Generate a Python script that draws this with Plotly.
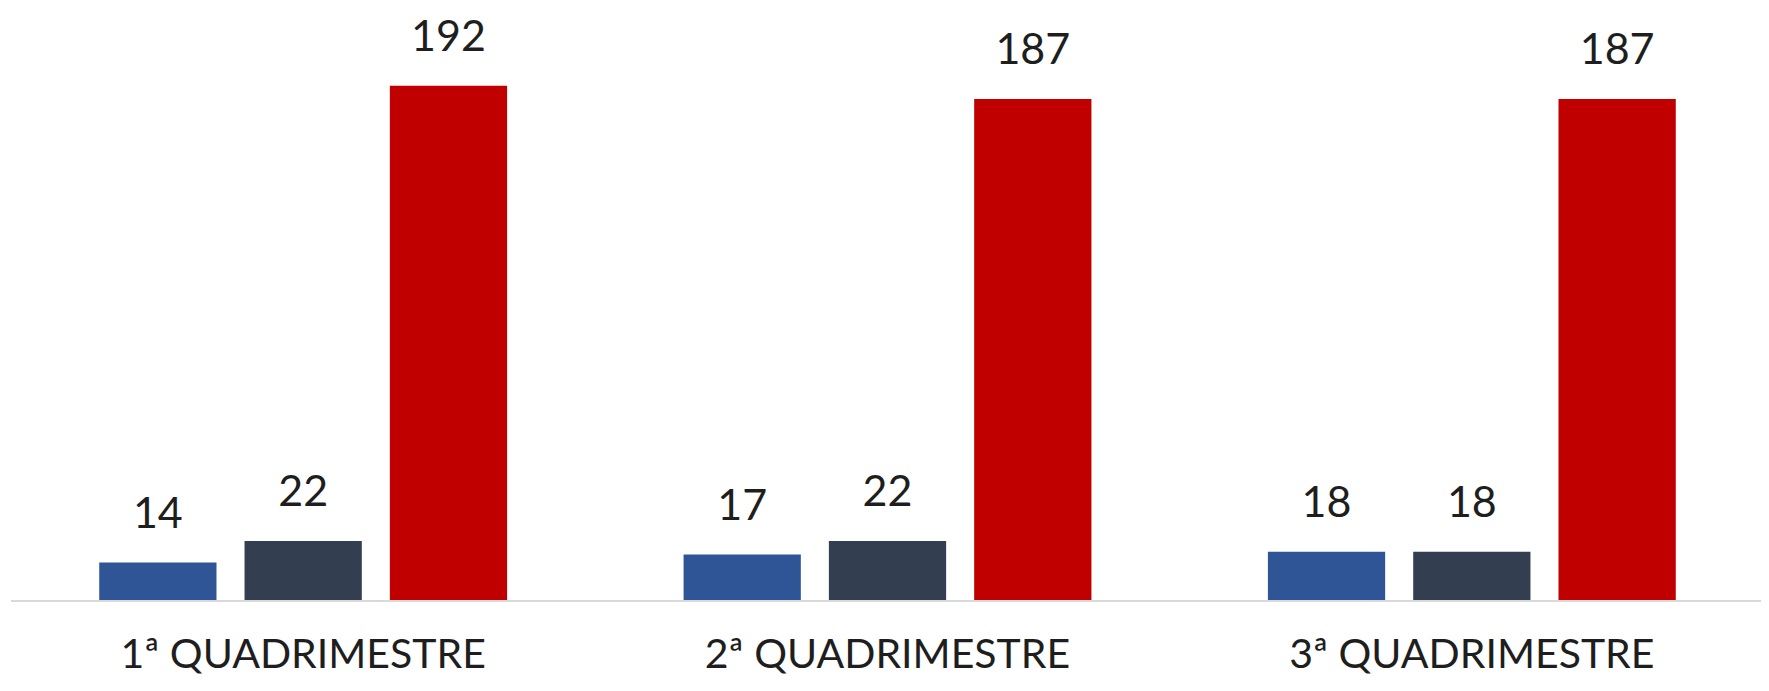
import plotly.graph_objects as go

categories = ["1ª QUADRIMESTRE", "2ª QUADRIMESTRE", "3ª QUADRIMESTRE"]
series_a = [14, 17, 18]
series_b = [22, 22, 18]
series_c = [192, 187, 187]

series = [
    ("Série 1", series_a, "#2F5597"),
    ("Série 2", series_b, "#333F50"),
    ("Série 3", series_c, "#C00000"),
]

FONT = "Lato"
FS = 43
TXT = "#1e1e1e"

fig = go.Figure()
for i, (name, vals, col) in enumerate(series):
    fig.add_trace(go.Bar(
        x=categories, y=vals, name=name, marker_color=col,
        marker_line_width=0, offsetgroup=str(i), hoverinfo="skip",
    ))
for i, (name, vals, col) in enumerate(series):
    fig.add_trace(go.Scatter(
        x=categories, y=vals, mode="markers+text", text=[str(v) for v in vals],
        textposition="top center", offsetgroup=str(i),
        marker=dict(size=37, opacity=0, color=col),
        textfont=dict(family=FONT, size=FS, color=TXT),
        showlegend=False, hoverinfo="skip", cliponaxis=False,
    ))

fig.update_layout(
    width=1769, height=691,
    barmode="group", bargap=0.254, bargroupgap=0.193,
    scattermode="group", scattergap=0.254,
    showlegend=False,
    plot_bgcolor="white", paper_bgcolor="white",
    margin=dict(l=3, r=13, t=0, b=99),
    font=dict(family=FONT, size=FS, color=TXT),
)
fig.update_xaxes(
    showline=True, linecolor="#D9D9D9", linewidth=2, ticks="",
    showgrid=False, tickfont=dict(family=FONT, size=41, color=TXT),
    ticklabelstandoff=17,
)
fig.update_yaxes(
    range=[0, 221], visible=False, showgrid=False, zeroline=False,
)
fig.write_html("out.html")
